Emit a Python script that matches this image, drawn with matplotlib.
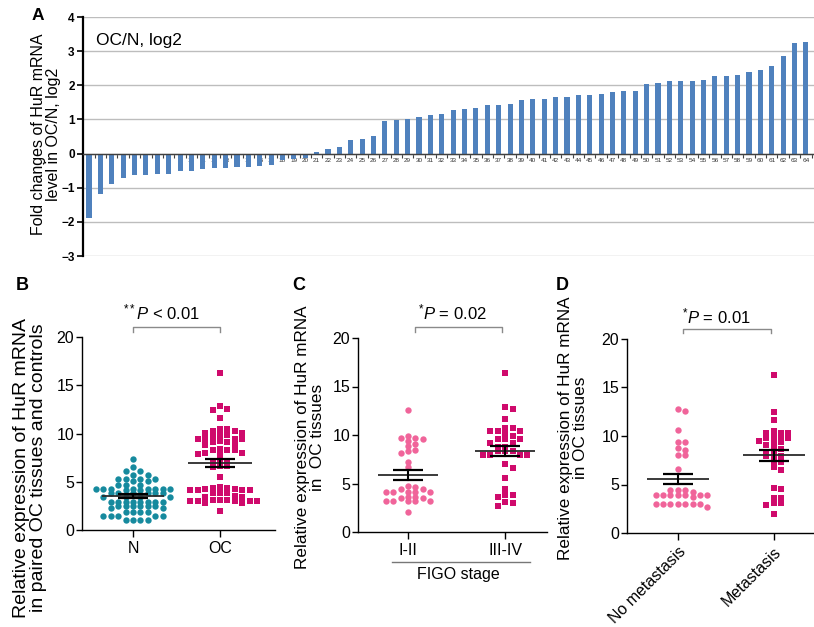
import numpy as np
import matplotlib
matplotlib.use('Agg')
import matplotlib.pyplot as plt

plt.rcParams['font.family'] = ['Liberation Sans', 'DejaVu Sans']
plt.rcParams['mathtext.fontset'] = 'custom'
plt.rcParams['mathtext.rm'] = 'Liberation Sans'
plt.rcParams['mathtext.it'] = 'Liberation Sans:italic'
plt.rcParams['mathtext.bf'] = 'Liberation Sans:bold'

# ---------------- data ----------------
fold_change = [-1.88, -1.17, -0.89, -0.71, -0.64, -0.64, -0.61, -0.61, -0.52, -0.52,
               -0.44, -0.43, -0.42, -0.40, -0.38, -0.36, -0.33, -0.19, -0.15, -0.13,
               0.05, 0.14, 0.19, 0.41, 0.43, 0.52, 0.95, 0.98, 1.00, 1.07,
               1.14, 1.16, 1.28, 1.30, 1.34, 1.41, 1.43, 1.46, 1.57, 1.59,
               1.61, 1.66, 1.67, 1.72, 1.73, 1.75, 1.79, 1.84, 1.84, 2.05,
               2.07, 2.13, 2.13, 2.14, 2.16, 2.26, 2.26, 2.31, 2.40, 2.44,
               2.57, 2.87, 3.24, 3.27, 3.60]
sample_ids = list(range(1, len(fold_change) + 1))

b_groups = ['N', 'OC']
b_normal = [7.4, 6.5, 6.1, 6.1, 5.7, 5.7, 5.3, 5.3, 5.3, 5.3, 5.1, 5.1, 4.7, 4.7, 4.7,
            4.3, 4.3, 4.3, 4.3, 4.3, 4.3, 4.3, 4.3, 4.1, 4.1, 3.8, 3.8, 3.8, 3.8, 3.8, 3.8,
            3.4, 3.4, 3.4, 3.4, 2.95, 2.95, 2.95, 2.95, 2.95, 2.95, 2.95, 2.95,
            2.5, 2.5, 2.5, 2.5, 2.5, 2.5, 2.25, 2.25, 1.9, 1.9, 1.9, 1.9,
            1.5, 1.5, 1.5, 1.5, 1.5, 1.0, 1.0, 1.0, 1.0]
b_tumor = [16.3, 12.8, 12.5, 12.4, 11.6, 10.5, 10.5, 10.3, 10.3, 10.1, 10.1, 9.8, 9.8, 9.7,
           9.4, 9.4, 9.4, 9.4, 9.2, 9.1, 9.1, 8.8, 8.8, 8.4, 8.3, 8.3, 8.3, 8.0, 8.0, 7.9,
           7.9, 7.3, 7.2, 7.0, 6.6, 6.6, 6.5, 5.5, 4.5, 4.4, 4.4, 4.2, 4.2, 4.1, 4.1, 4.1,
           4.1, 3.8, 3.8, 3.8, 3.5, 3.4, 3.4, 3.1, 3.1, 3.1, 3.0, 3.0, 3.0, 3.0, 3.0, 2.8,
           2.8, 2.0]

c_groups = ['I-II', 'III-IV']
c_early = [12.6, 9.9, 9.7, 9.7, 9.55, 9.4, 9.1, 8.9, 8.5, 8.4, 8.1, 7.2, 6.7, 4.7, 4.6,
           4.4, 4.4, 4.15, 4.15, 4.15, 4.15, 4.15, 3.65, 3.65, 3.5, 3.5, 3.2, 3.2, 3.2,
           3.2, 3.2, 2.1]
c_late = [16.4, 12.9, 12.7, 11.7, 10.7, 10.7, 10.45, 10.45, 10.45, 10.1, 9.9, 9.55, 9.55,
          9.55, 9.2, 9.2, 8.8, 8.8, 8.3, 8.3, 8.3, 7.9, 7.9, 7.9, 7.9, 7.0, 6.6, 5.6, 4.4,
          3.8, 3.8, 3.6, 3.1, 2.95, 2.7]

d_groups = ['No metastasis', 'Metastasis']
d_nomet = [12.8, 12.6, 10.6, 9.4, 9.4, 8.8, 8.6, 8.0, 8.0, 6.6, 4.4, 4.4, 4.4, 4.2,
           3.9, 3.9, 3.9, 3.9, 3.9, 3.9, 3.9, 3.7, 3.0, 3.0, 3.0, 3.0, 3.0, 3.0, 3.0, 2.7]
d_met = [16.3, 12.5, 11.6, 10.55, 10.35, 10.35, 10.35, 9.9, 9.9, 9.75, 9.75, 9.5, 9.4,
         9.4, 9.1, 8.9, 8.7, 8.4, 8.4, 7.9, 7.9, 7.9, 7.35, 7.35, 6.8, 6.5, 4.6, 4.5,
         3.6, 3.6, 3.05, 3.05, 2.9, 1.95]

# ---------------- figure ----------------
W, H = 814, 627
fig = plt.figure(figsize=(W / 100, H / 100), dpi=100)


def rect(l, t, r, b):
    return [l / W, 1 - b / H, (r - l) / W, (b - t) / H]


def fpos(x, y):
    return x / W, 1 - y / H


# ---------------- panel A ----------------
axA = fig.add_axes(rect(83, 17, 823, 256))
axA.bar(sample_ids, fold_change, width=0.45, color='#4F81BD', zorder=3)
axA.set_xlim(0.47, 65.5)
axA.set_ylim(-3, 4)
axA.set_yticks(range(-3, 5))
axA.yaxis.grid(True, color='#BDBDBD', lw=1.0)
axA.set_axisbelow(True)
for s in ['top', 'right']:
    axA.spines[s].set_visible(False)
axA.spines['bottom'].set_position(('data', 0))
axA.spines['bottom'].set_color('#404040')
axA.spines['bottom'].set_linewidth(1.0)
axA.spines['bottom'].set_zorder(4)
axA.spines['left'].set_linewidth(1.6)
axA.set_xticks(sample_ids)
axA.set_xticklabels([str(i) for i in sample_ids])
axA.set_xticks([i + 0.5 for i in sample_ids[:-1]], minor=True)
axA.tick_params(axis='x', which='major', length=0, labelsize=4.6, pad=3, labelcolor='#333333')
axA.tick_params(axis='x', which='minor', length=3, width=0.8, direction='out', color='#404040')
axA.tick_params(axis='y', length=4, width=1.2, labelsize=8.5, pad=2)
for t in axA.get_yticklabels():
    t.set_fontweight('bold')
fig.text(*fpos(96, 40), 'OC/N, log2', fontsize=12.5, va='center', ha='left')
fig.text(*fpos(46, 134), 'Fold changes of HuR mRNA\nlevel in OC/N, log2', rotation=90,
         ha='center', va='center', fontsize=11.5, linespacing=1.05, multialignment='center')
fig.text(*fpos(38, 15), 'A', fontsize=12.5, fontweight='bold', ha='center', va='center')


# ---------------- helpers for scatter panels ----------------
def swarm_x(ax, xc, vals, d, vt):
    """Column/row scatter layout: points must differ by d px horizontally
    or by vt px vertically; offsets tried as 0, +d, -d, +2d, ..."""
    vals = np.asarray(vals, float)
    pix = ax.transData.transform(np.column_stack([np.full(len(vals), xc), vals]))
    x0 = pix[0, 0]
    ys = pix[:, 1]
    offs = np.zeros(len(vals))
    placed = []
    cands = [0.0]
    for k in range(1, 25):
        cands += [k * d, -k * d]
    for i in np.argsort(-vals, kind='stable'):
        for c in cands:
            if all(abs(c - px) >= d * 0.98 or abs(ys[i] - py) >= vt for px, py in placed):
                break
        placed.append((c, ys[i]))
        offs[i] = c
    back = ax.transData.inverted().transform(np.column_stack([x0 + offs, ys]))
    return back[:, 0]


def px_per_unit(ax):
    a = ax.transData.transform([(0, 0), (1, 0)])
    return a[1, 0] - a[0, 0]


def mean_sem(ax, xc, vals, half_mean_px=31, half_cap_px=15):
    vals = np.asarray(vals, float)
    m = vals.mean()
    s = vals.std(ddof=1) / np.sqrt(len(vals))
    ppu = px_per_unit(ax)
    hm, hc = half_mean_px / ppu, half_cap_px / ppu
    ax.plot([xc - hm, xc + hm], [m, m], color='#2b2b2b', lw=1.3, zorder=5, solid_capstyle='butt')
    ax.plot([xc, xc], [m - s, m + s], color='black', lw=1.5, zorder=5)
    for yy in (m - s, m + s):
        ax.plot([xc - hc, xc + hc], [yy, yy], color='black', lw=1.6, zorder=5,
                solid_capstyle='butt')


def setup(ax, xlim, labels, rot=0):
    ax.set_xlim(*xlim)
    ax.set_ylim(0, 20)
    for s in ['top', 'right']:
        ax.spines[s].set_visible(False)
    for s in ['left', 'bottom']:
        ax.spines[s].set_linewidth(1.0)
    ax.set_yticks([0, 5, 10, 15, 20])
    ax.set_xticks([0, 1])
    if rot:
        ax.set_xticklabels(labels, rotation=rot, ha='right', va='top', rotation_mode='anchor')
    else:
        ax.set_xticklabels(labels)
    ax.tick_params(axis='y', direction='out', length=4, width=1.0, labelsize=11.5, pad=1.5)
    ax.tick_params(axis='x', direction='out', length=5, width=1.0, labelsize=11.5, pad=3)


def bracket(ax, x0, x1, y, drop, ptxt, tx, ty):
    ax.plot([x0, x0, x1, x1], [y - drop, y, y, y - drop], color='#8a8a8a', lw=1.0, clip_on=False)
    ax.text(tx, ty, ptxt, ha='center', va='center', fontsize=12, clip_on=False)


TEAL = '#168A9E'
MAGENTA = '#CF0A6C'
PINK = '#F0649A'
DX, VT = 7.4, 4.15
S_CIRC, S_SQ = 21, 20

# ---------------- panel B ----------------
axB = fig.add_axes(rect(82, 337, 275, 530))
setup(axB, (-0.586, 1.632), b_groups)
axB.scatter(swarm_x(axB, 0, b_normal, DX, VT), b_normal, s=S_CIRC, marker='o', color=TEAL,
            linewidths=0, zorder=3, clip_on=False)
axB.scatter(swarm_x(axB, 1, b_tumor, DX, VT), b_tumor, s=S_SQ, marker='s', color=MAGENTA,
            linewidths=0, zorder=3, clip_on=False)
mean_sem(axB, 0, b_normal, 31, 15)
mean_sem(axB, 1, b_tumor, 32, 15)
bracket(axB, 0, 1, 21.0, 0.5, r'$^{**}P$ < 0.01', 0.33, 22.5)
fig.text(*fpos(30, 468), 'Relative expression of HuR mRNA\nin paired OC tissues and controls',
         rotation=90, ha='center', va='center', fontsize=14, linespacing=1.0,
         multialignment='center')
fig.text(*fpos(22, 285), 'B', fontsize=13, fontweight='bold', ha='center', va='center')

# ---------------- panel C ----------------
axC = fig.add_axes(rect(358, 338, 547, 532))
setup(axC, (-0.515, 1.43), c_groups)
axC.scatter(swarm_x(axC, 0, c_early, DX, VT), c_early, s=S_CIRC, marker='o', color=PINK,
            linewidths=0, zorder=3, clip_on=False)
axC.scatter(swarm_x(axC, 1, c_late, DX, VT), c_late, s=S_SQ, marker='s', color=MAGENTA,
            linewidths=0, zorder=3, clip_on=False)
mean_sem(axC, 0, c_early, 30, 15)
mean_sem(axC, 1, c_late, 30, 15)
bracket(axC, 0.07, 0.97, 21.1, 0.5, r'$^{*}P$ = 0.02', 0.46, 22.6)
axC.plot([-0.16, 1.26], [-3.1, -3.1], color='#777777', lw=1.0, clip_on=False)
axC.text(0.52, -4.4, 'FIGO stage', ha='center', va='center', fontsize=11.5, clip_on=False)
fig.text(*fpos(310, 437), 'Relative expression of HuR mRNA\nin  OC tissues',
         rotation=90, ha='center', va='center', fontsize=12.3, linespacing=1.0,
         multialignment='center')
fig.text(*fpos(299, 285), 'C', fontsize=13, fontweight='bold', ha='center', va='center')

# ---------------- panel D ----------------
axD = fig.add_axes(rect(627, 339, 813, 533))
setup(axD, (-0.53, 1.41), d_groups, rot=45)
axD.scatter(swarm_x(axD, 0, d_nomet, DX, VT), d_nomet, s=S_CIRC, marker='o', color=PINK,
            linewidths=0, zorder=3, clip_on=False)
axD.scatter(swarm_x(axD, 1, d_met, DX, VT), d_met, s=S_SQ, marker='s', color=MAGENTA,
            linewidths=0, zorder=3, clip_on=False)
mean_sem(axD, 0, d_nomet, 31, 15)
mean_sem(axD, 1, d_met, 31, 15)
bracket(axD, 0.05, 0.97, 21.0, 0.4, r'$^{*}P$ = 0.01', 0.40, 22.3)
fig.text(*fpos(573, 428), 'Relative expression of HuR mRNA\nin OC tissues',
         rotation=90, ha='center', va='center', fontsize=12.3, linespacing=1.0,
         multialignment='center')
fig.text(*fpos(562, 285), 'D', fontsize=13, fontweight='bold', ha='center', va='center')

fig.savefig('out.png', dpi=100)
